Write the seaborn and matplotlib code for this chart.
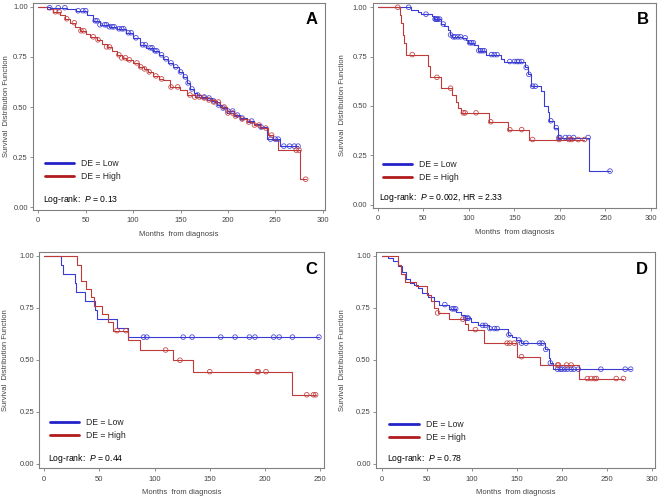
import numpy as np
import pandas as pd
import matplotlib
matplotlib.use('Agg')
import matplotlib.pyplot as plt
from matplotlib.lines import Line2D
import seaborn as sns

# ── DATA ─────────────────────────────────────────────────────────────────────
# each group: event times + survival after event, and censoring times

# Panel A
a_low_t = [0, 12, 30, 40, 51, 58, 65, 75, 83, 93, 100, 107, 114, 121, 127, 132, 137,
           142, 148, 153, 157, 160, 164, 167, 172, 178, 183, 188, 194, 199, 206, 213,
           220, 227, 234, 241, 255]
a_low_s = [1.0, 0.995, 0.99, 0.98, 0.96, 0.93, 0.91, 0.90, 0.89, 0.87, 0.845, 0.81, 0.795,
           0.78, 0.76, 0.74, 0.72, 0.70, 0.675, 0.65, 0.62, 0.59, 0.57, 0.56, 0.55, 0.545,
           0.53, 0.51, 0.495, 0.48, 0.46, 0.445, 0.43, 0.415, 0.40, 0.34, 0.305]
a_low_c = [12, 21, 28, 42, 47, 50, 60, 62, 65, 70, 72, 75, 78, 80, 85, 88, 90, 95, 98, 103,
           110, 113, 118, 120, 123, 125, 130, 135, 140, 145, 150, 155, 158, 162, 168, 175,
           180, 185, 190, 195, 200, 205, 210, 215, 225, 235, 245, 250, 253, 259, 265, 270, 274]
a_high_t = [0, 9, 16, 23, 28, 33, 39, 44, 50, 55, 62, 67, 72, 78, 83, 88, 93, 100, 106, 111,
            116, 121, 127, 132, 139, 149, 157, 165, 171, 178, 185, 192, 199, 206, 213, 220,
            227, 234, 242, 248, 253, 276]
a_high_s = [1.0, 0.99, 0.975, 0.96, 0.94, 0.92, 0.90, 0.88, 0.865, 0.85, 0.835, 0.815, 0.80,
            0.78, 0.76, 0.745, 0.735, 0.72, 0.70, 0.69, 0.675, 0.655, 0.64, 0.635, 0.60,
            0.585, 0.56, 0.55, 0.545, 0.535, 0.525, 0.50, 0.47, 0.455, 0.44, 0.425, 0.41,
            0.395, 0.36, 0.335, 0.285, 0.14]
a_high_c = [18, 22, 30, 38, 45, 48, 58, 63, 72, 75, 85, 88, 92, 96, 104, 108, 112, 117, 124,
            130, 140, 147, 160, 165, 170, 175, 180, 185, 190, 196, 200, 205, 208, 215, 222,
            228, 233, 240, 246, 272, 275, 282]

# Panel B
b_low_t = [0, 37, 44, 48, 60, 62, 70, 73, 77, 79, 82, 93, 97, 99, 106, 110, 119, 135, 139,
           162, 165, 168, 179, 183, 187, 188, 194, 198, 232]
b_low_s = [1.0, 0.985, 0.975, 0.965, 0.955, 0.94, 0.915, 0.905, 0.885, 0.86, 0.85, 0.845,
           0.835, 0.82, 0.81, 0.78, 0.76, 0.74, 0.725, 0.695, 0.66, 0.60, 0.575, 0.50, 0.47,
           0.425, 0.39, 0.34, 0.17]
b_low_c = [34, 53, 63, 64, 65, 66, 68, 72, 80, 83, 85, 88, 91, 96, 101, 103, 105, 111, 113,
           115, 117, 125, 128, 131, 145, 150, 153, 155, 158, 163, 166, 170, 173, 190, 196,
           199, 200, 206, 210, 215, 231, 255]
b_high_t = [0, 25, 26, 27.5, 29, 31, 55, 57, 70, 82, 86, 88, 91, 122, 143, 166]
b_high_s = [1.0, 0.96, 0.92, 0.86, 0.82, 0.76, 0.70, 0.645, 0.59, 0.555, 0.52, 0.49, 0.465,
            0.42, 0.38, 0.33]
b_high_c = [22, 38, 65, 80, 94, 96, 108, 124, 145, 158, 170, 199, 210, 213, 220, 227]

# Panel C
c_low_t = [0, 15, 17, 28, 29, 37, 46, 47.5, 65.5, 76]
c_low_s = [1.0, 0.957, 0.913, 0.87, 0.826, 0.783, 0.74, 0.696, 0.652, 0.609]
c_low_c = [90, 93, 126, 134, 160, 173, 186, 191, 208, 213, 225, 249]
c_high_t = [0, 30, 33, 38, 42, 45, 52, 58, 62, 75.5, 87, 117, 135, 225]
c_high_s = [1.0, 0.957, 0.88, 0.84, 0.80, 0.76, 0.72, 0.68, 0.64, 0.595, 0.547, 0.498,
            0.443, 0.332]
c_high_c = [66, 74, 110, 123, 150, 193, 194, 201, 238, 244, 246]

# Panel D
d_low_t = [0, 7, 12, 18, 23, 27, 31, 36, 40, 45, 51, 58, 64, 75, 82.5, 88, 92, 99, 106.5,
           119.5, 140, 145, 149, 155, 180.5, 185, 187, 190]
d_low_s = [1.0, 0.99, 0.975, 0.95, 0.92, 0.89, 0.87, 0.86, 0.845, 0.82, 0.80, 0.78, 0.765,
           0.745, 0.73, 0.715, 0.70, 0.68, 0.665, 0.65, 0.62, 0.61, 0.595, 0.58, 0.55, 0.51,
           0.485, 0.455]
d_low_c = [70, 78, 80, 82, 93, 95, 96, 112, 115, 120, 125, 128, 141, 152, 155, 160, 175,
           178, 182, 187, 195, 198, 200, 203, 206, 210, 213, 218, 243, 270, 276]
d_high_t = [0, 18, 21.5, 26, 38, 50, 55, 58, 62, 75, 92, 95.5, 113, 150, 175, 219]
d_high_s = [1.0, 0.955, 0.91, 0.875, 0.855, 0.81, 0.78, 0.75, 0.725, 0.695, 0.67, 0.645,
            0.58, 0.515, 0.475, 0.41]
d_high_c = [62, 90, 104, 139, 142, 147, 155, 195, 196, 205, 210, 228, 232, 236, 238, 260, 268]

panel_letters = ['A', 'B', 'C', 'D']
logrank_txt = ['0.13', '0.002, HR = 2.33', '0.44', '0.78']
x_ticks = [[0, 50, 100, 150, 200, 250, 300], [0, 50, 100, 150, 200, 250, 300],
           [0, 50, 100, 150, 200, 250], [0, 50, 100, 150, 200, 250, 300]]
y_ticks = [0.0, 0.25, 0.5, 0.75, 1.0]
groups = ['DE = Low', 'DE = High']

curves = {
    'A': [(a_low_t, a_low_s, a_low_c), (a_high_t, a_high_s, a_high_c)],
    'B': [(b_low_t, b_low_s, b_low_c), (b_high_t, b_high_s, b_high_c)],
    'C': [(c_low_t, c_low_s, c_low_c), (c_high_t, c_high_s, c_high_c)],
    'D': [(d_low_t, d_low_s, d_low_c), (d_high_t, d_high_s, d_high_c)],
}

# ── LAYOUT ────────────────────────────────────────────────────────────────────
W, H = 662, 500
boxes = {  # left, top, right, bottom in pixels
    'A': (33, 2.7, 325, 210),
    'B': (372.7, 2.7, 656, 208),
    'C': (39.3, 251.7, 324, 468.3),
    'D': (376, 251.7, 655, 468.3),
}
xlims = {'A': (-5.6, 302.4), 'B': (-5.5, 305.5), 'C': (-4.5, 253.6), 'D': (-6.3, 303)}
ylims = {'A': (-0.0135, 1.02), 'B': (-0.017, 1.023), 'C': (-0.021, 1.019), 'D': (-0.021, 1.019)}
ylab_x = {'A': -0.08, 'B': -0.094, 'C': -0.108, 'D': -0.107}
leg_pos = {'A': (0.041, 0.194), 'B': (0.035, 0.181), 'C': (0.038, 0.18), 'D': (0.048, 0.173)}
txt_pos = {'A': (0.034, 0.053), 'B': (0.021, 0.052), 'C': (0.032, 0.046), 'D': (0.039, 0.046)}

BLUE_LEG, RED_LEG = '#2222c8', '#b01c1c'
BLUE, RED = '#3a3ad4', '#c03a3a'
palette = {groups[0]: BLUE, groups[1]: RED}

sns.set_theme(style='white')
plt.rcParams['font.family'] = ['Liberation Sans', 'DejaVu Sans']
plt.rcParams['mathtext.fontset'] = 'custom'
plt.rcParams['mathtext.it'] = 'Liberation Sans:italic'
plt.rcParams['mathtext.rm'] = 'Liberation Sans'

fig = plt.figure(figsize=(W / 100, H / 100), dpi=100)
fig.patch.set_facecolor('white')

for i, key in enumerate(panel_letters):
    l, t, r, b = boxes[key]
    ax = fig.add_axes([l / W, (H - b) / H, (r - l) / W, (b - t) / H])

    # build step data and censor marks
    rows, cens = [], []
    for g, (tt, ss, cc) in zip(groups, curves[key]):
        tt = list(tt); ss = list(ss)
        end = max(max(cc), tt[-1])
        tt.append(end); ss.append(ss[-1])
        for x, y in zip(tt, ss):
            rows.append({'time': x, 'surv': y, 'group': g})
        tt_arr = np.array(tt[:-1])
        for c in cc:
            idx = np.searchsorted(tt_arr, c, side='right') - 1
            cens.append({'time': c, 'surv': ss[idx], 'group': g})
    df = pd.DataFrame(rows)
    df_c = pd.DataFrame(cens)

    sns.lineplot(data=df, x='time', y='surv', hue='group', palette=palette,
                 estimator=None, sort=False, drawstyle='steps-post', lw=0.8,
                 legend=False, ax=ax)
    for g in groups:
        sub = df_c[df_c['group'] == g]
        ax.scatter(sub['time'], sub['surv'], s=11, facecolors='none',
                   edgecolors=palette[g], linewidths=0.6, alpha=0.9, zorder=3)

    ax.set_xlim(*xlims[key])
    ax.set_ylim(*ylims[key])
    ax.set_xticks(x_ticks[i])
    ax.set_yticks(y_ticks)
    ax.set_yticklabels([f'{v:.2f}' for v in y_ticks])
    ax.tick_params(axis='both', which='both', direction='out', length=2.2, width=0.6,
                   color='#808080', labelsize=5.5, labelcolor='#444444', pad=1.5,
                   bottom=True, left=True)
    ax.tick_params(axis='x', pad=3)
    for sp in ax.spines.values():
        sp.set_color('#808080')
        sp.set_linewidth(0.8)

    ax.set_xlabel('Months  from diagnosis', fontsize=5.5, color='#444444', labelpad=5)
    ax.set_ylabel('Survival  Distribution Function', fontsize=5.5, color='#444444')
    ax.yaxis.set_label_coords(ylab_x[key], 0.5)

    handles = [Line2D([], [], color=BLUE_LEG, lw=2.0), Line2D([], [], color=RED_LEG, lw=2.0)]
    ax.legend(handles, groups, loc='center left', bbox_to_anchor=leg_pos[key],
              frameon=False, fontsize=6.2, handlelength=3.4, handletextpad=0.8,
              labelspacing=0.5, borderaxespad=0, borderpad=0)

    ax.text(*txt_pos[key], f'Log-rank:  $P$ = {logrank_txt[i]}', transform=ax.transAxes,
            fontsize=6.2, ha='left', va='center', color='black')
    ax.text(0.975, 0.92, key, transform=ax.transAxes, fontsize=12, fontweight='bold',
            ha='right', va='center', color='black')

fig.savefig('out.png', dpi=100, facecolor='white')
